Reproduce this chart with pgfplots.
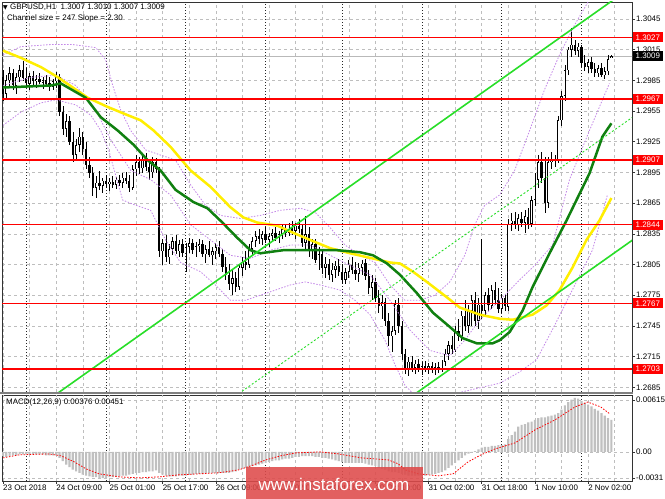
\documentclass[border=0pt]{standalone}
\usepackage{pgfplots}
\pgfplotsset{compat=1.18}
\usepackage{pgfplotstable}
\usepackage{fontspec}
\setmainfont{Liberation Sans}
\newfontfamily\dejavu{DejaVu Sans}
\definecolor{chgreen}{RGB}{40,222,40}
\definecolor{magreen}{RGB}{16,128,16}
\definecolor{mayellow}{RGB}{255,238,0}
\definecolor{bandpurple}{RGB}{196,136,232}
\definecolor{gridgray}{RGB}{190,190,190}
\definecolor{histgray}{RGB}{192,192,192}
\definecolor{wmred}{RGB}{222,74,74}
\newcommand{\lbl}{\fontsize{8}{9.6}\selectfont}

\pgfplotstableread{
i o h l c
0 1.2988 1.2995 1.2965 1.2972
1 1.2972 1.2990 1.2966 1.2985
2 1.2985 1.2998 1.2978 1.2992
3 1.2992 1.2996 1.2976 1.2980
4 1.2980 1.2992 1.2972 1.2988
5 1.2988 1.3000 1.2983 1.2995
6 1.2995 1.3004 1.2984 1.2987
7 1.2987 1.2997 1.2978 1.2982
8 1.2982 1.2992 1.2976 1.2989
9 1.2989 1.2994 1.2980 1.2984
10 1.2984 1.2990 1.2978 1.2986
11 1.2986 1.2992 1.2981 1.2983
12 1.2983 1.2988 1.2977 1.2985
13 1.2985 1.2990 1.2980 1.2982
14 1.2982 1.2988 1.2975 1.2979
15 1.2979 1.2986 1.2976 1.2984
16 1.2984 1.2993 1.2978 1.2988
17 1.2988 1.2991 1.2950 1.2954
18 1.2954 1.2960 1.2932 1.2938
19 1.2938 1.2952 1.2930 1.2945
20 1.2945 1.2950 1.2922 1.2925
21 1.2925 1.2935 1.2905 1.2912
22 1.2912 1.2928 1.2908 1.2922
23 1.2922 1.2938 1.2915 1.2930
24 1.2930 1.2935 1.2912 1.2918
25 1.2918 1.2925 1.2898 1.2902
26 1.2902 1.2910 1.2890 1.2895
27 1.2895 1.2900 1.2872 1.2880
28 1.2880 1.2892 1.2870 1.2885
29 1.2885 1.2896 1.2878 1.2882
30 1.2882 1.2890 1.2875 1.2887
31 1.2887 1.2893 1.2880 1.2884
32 1.2884 1.2890 1.2877 1.2886
33 1.2886 1.2892 1.2880 1.2883
34 1.2883 1.2891 1.2879 1.2888
35 1.2888 1.2893 1.2882 1.2885
36 1.2885 1.2895 1.2880 1.2890
37 1.2890 1.2896 1.2884 1.2887
38 1.2887 1.2893 1.2876 1.2880
39 1.2880 1.2902 1.2878 1.2898
40 1.2898 1.2912 1.2892 1.2905
41 1.2905 1.2910 1.2893 1.2899
42 1.2899 1.2912 1.2895 1.2908
43 1.2908 1.2914 1.2896 1.2900
44 1.2900 1.2908 1.2888 1.2895
45 1.2895 1.2910 1.2890 1.2905
46 1.2905 1.2909 1.2894 1.2898
47 1.2898 1.2900 1.2812 1.2818
48 1.2818 1.2830 1.2805 1.2826
49 1.2826 1.2834 1.2808 1.2812
50 1.2812 1.2825 1.2806 1.2820
51 1.2820 1.2832 1.2814 1.2828
52 1.2828 1.2834 1.2815 1.2818
53 1.2818 1.2829 1.2812 1.2825
54 1.2825 1.2830 1.2812 1.2816
55 1.2816 1.2826 1.2798 1.2822
56 1.2822 1.2831 1.2816 1.2826
57 1.2826 1.2830 1.2815 1.2819
58 1.2819 1.2827 1.2812 1.2823
59 1.2823 1.2830 1.2817 1.2825
60 1.2825 1.2829 1.2812 1.2815
61 1.2815 1.2824 1.2806 1.2820
62 1.2820 1.2828 1.2812 1.2814
63 1.2814 1.2822 1.2805 1.2818
64 1.2818 1.2826 1.2810 1.2822
65 1.2822 1.2828 1.2812 1.2815
66 1.2815 1.2820 1.2798 1.2803
67 1.2803 1.2812 1.2790 1.2795
68 1.2795 1.2806 1.2780 1.2786
69 1.2786 1.2800 1.2775 1.2792
70 1.2792 1.2798 1.2778 1.2783
71 1.2783 1.2806 1.2780 1.2802
72 1.2802 1.2812 1.2794 1.2808
73 1.2808 1.2818 1.2800 1.2805
74 1.2805 1.2825 1.2802 1.2820
75 1.2820 1.2832 1.2814 1.2828
76 1.2828 1.2838 1.2822 1.2833
77 1.2833 1.2840 1.2825 1.2830
78 1.2830 1.2838 1.2824 1.2835
79 1.2835 1.2842 1.2826 1.2829
80 1.2829 1.2836 1.2822 1.2833
81 1.2833 1.2840 1.2827 1.2836
82 1.2836 1.2842 1.2828 1.2831
83 1.2831 1.2838 1.2826 1.2835
84 1.2835 1.2844 1.2830 1.2840
85 1.2840 1.2845 1.2832 1.2836
86 1.2836 1.2846 1.2833 1.2842
87 1.2842 1.2848 1.2834 1.2838
88 1.2838 1.2846 1.2830 1.2843
89 1.2843 1.2850 1.2836 1.2840
90 1.2840 1.2844 1.2822 1.2826
91 1.2826 1.2852 1.2820 1.2835
92 1.2835 1.2842 1.2812 1.2818
93 1.2818 1.2830 1.2810 1.2825
94 1.2825 1.2830 1.2806 1.2810
95 1.2810 1.2822 1.2800 1.2815
96 1.2815 1.2820 1.2796 1.2802
97 1.2802 1.2812 1.2792 1.2806
98 1.2806 1.2810 1.2790 1.2795
99 1.2795 1.2806 1.2788 1.2800
100 1.2800 1.2808 1.2792 1.2804
101 1.2804 1.2810 1.2794 1.2798
102 1.2798 1.2806 1.2786 1.2790
103 1.2790 1.2802 1.2786 1.2798
104 1.2798 1.2810 1.2792 1.2805
105 1.2805 1.2812 1.2796 1.2800
106 1.2800 1.2808 1.2790 1.2796
107 1.2796 1.2806 1.2788 1.2802
108 1.2802 1.2810 1.2795 1.2806
109 1.2806 1.2810 1.2790 1.2794
110 1.2794 1.2800 1.2776 1.2782
111 1.2782 1.2795 1.2770 1.2788
112 1.2788 1.2792 1.2768 1.2772
113 1.2772 1.2780 1.2758 1.2764
114 1.2764 1.2775 1.2752 1.2768
115 1.2768 1.2772 1.2745 1.2750
116 1.2750 1.2758 1.2725 1.2735
117 1.2735 1.2745 1.2720 1.2740
118 1.2740 1.2770 1.2736 1.2766
119 1.2766 1.2772 1.2738 1.2745
120 1.2745 1.2750 1.2712 1.2718
121 1.2718 1.2722 1.2698 1.2702
122 1.2702 1.2715 1.2696 1.2710
123 1.2710 1.2716 1.2700 1.2704
124 1.2704 1.2712 1.2698 1.2708
125 1.2708 1.2713 1.2700 1.2703
126 1.2703 1.2710 1.2697 1.2706
127 1.2706 1.2711 1.2700 1.2704
128 1.2704 1.2709 1.2698 1.2706
129 1.2706 1.2710 1.2699 1.2702
130 1.2702 1.2709 1.2697 1.2705
131 1.2705 1.2710 1.2699 1.2703
132 1.2703 1.2712 1.2700 1.2710
133 1.2710 1.2722 1.2706 1.2718
134 1.2718 1.2730 1.2712 1.2726
135 1.2726 1.2735 1.2718 1.2722
136 1.2722 1.2745 1.2720 1.2740
137 1.2740 1.2752 1.2730 1.2735
138 1.2735 1.2760 1.2730 1.2755
139 1.2755 1.2770 1.2740 1.2745
140 1.2745 1.2765 1.2738 1.2760
141 1.2760 1.2775 1.2745 1.2770
142 1.2770 1.2778 1.2745 1.2750
143 1.2750 1.2772 1.2742 1.2766
144 1.2766 1.2830 1.2752 1.2760
145 1.2760 1.2778 1.2755 1.2775
146 1.2775 1.2782 1.2760 1.2765
147 1.2765 1.2785 1.2762 1.2780
148 1.2780 1.2788 1.2765 1.2770
149 1.2770 1.2782 1.2758 1.2762
150 1.2762 1.2776 1.2758 1.2772
151 1.2772 1.2776 1.2760 1.2764
152 1.2764 1.2850 1.2760 1.2845
153 1.2845 1.2855 1.2838 1.2848
154 1.2848 1.2856 1.2840 1.2844
155 1.2844 1.2854 1.2838 1.2850
156 1.2850 1.2856 1.2842 1.2846
157 1.2846 1.2858 1.2836 1.2852
158 1.2852 1.2860 1.2840 1.2845
159 1.2845 1.2872 1.2842 1.2868
160 1.2868 1.2895 1.2862 1.2888
161 1.2888 1.2912 1.2880 1.2905
162 1.2905 1.2915 1.2885 1.2890
163 1.2890 1.2910 1.2855 1.2865
164 1.2865 1.2910 1.2860 1.2905
165 1.2905 1.2915 1.2898 1.2908
166 1.2908 1.2912 1.2900 1.2906
167 1.2906 1.2950 1.2904 1.2946
168 1.2946 1.2975 1.2940 1.2970
169 1.2970 1.3000 1.2965 1.2995
170 1.2995 1.3018 1.2990 1.3015
171 1.3015 1.3036 1.3008 1.3020
172 1.3020 1.3025 1.3010 1.3014
173 1.3014 1.3022 1.3008 1.3018
174 1.3018 1.3020 1.2998 1.3002
175 1.3002 1.3010 1.2994 1.2998
176 1.2998 1.3006 1.2992 1.3003
177 1.3003 1.3008 1.2992 1.2996
178 1.2996 1.3002 1.2988 1.2992
179 1.2992 1.3000 1.2988 1.2997
180 1.2997 1.3002 1.2988 1.2990
181 1.2990 1.2998 1.2986 1.2994
182 1.2994 1.3010 1.2990 1.3006
183 1.3007 1.3010 1.3007 1.3009
}\candles

\pgfplotstableread{
i p
0 1.2978
14.4 1.2980
17.4 1.2982
24.9 1.2968
29.4 1.2949
34.5 1.2936
39.3 1.2922
43.5 1.2907
47.4 1.2897
51.9 1.2878
57.3 1.2866
61.5 1.2860
66 1.2846
70.5 1.2831
74.4 1.2819
77.4 1.2816
84.3 1.2819
91.5 1.2819
100.5 1.2819
107.4 1.2817
111.3 1.2814
115.5 1.2806
119.4 1.2795
124.5 1.2777
129.3 1.2758
134.4 1.2744
138.3 1.2733
142.5 1.2728
147.3 1.2728
149.4 1.2731
152.4 1.2739
156.3 1.2760
159.3 1.2783
164.4 1.2816
169.5 1.2848
172.5 1.2868
176.4 1.2894
180.3 1.2930
183 1.2943
}\maG

\pgfplotstableread{
i p
0 1.3014
5.4 1.3007
11.4 1.2998
16.5 1.2988
21 1.2978
25.5 1.2968
31.5 1.2959
37.5 1.2951
41.4 1.2946
45.3 1.2936
50.4 1.2920
56.4 1.2897
62.4 1.2881
68.4 1.2861
72.3 1.2851
76.5 1.2846
82.5 1.2843
87.3 1.2836
92.4 1.2829
98.4 1.2821
104.4 1.2816
116.4 1.2807
119.4 1.2806
123.3 1.2798
127.5 1.2788
133.5 1.2773
137.4 1.2763
143.4 1.2756
149.4 1.2752
153.3 1.2751
159.3 1.2756
163.5 1.2765
167.4 1.2780
171.3 1.2802
175.5 1.2829
179.4 1.2848
183 1.2870
}\maY

\pgfplotstableread{
i p
0 1.3010
5.4 1.3018
14.4 1.3020
21 1.3020
27.9 1.3017
30.9 1.3005
33 1.2980
35.4 1.2956
38.4 1.2936
42.9 1.2917
47.4 1.2912
51.9 1.2907
56.4 1.2883
60.9 1.2863
65.4 1.2853
71.4 1.2850
77.4 1.2853
83.4 1.2858
89.4 1.2860
93.9 1.2856
98.4 1.2841
102.9 1.2824
107.4 1.2814
111.9 1.2807
116.4 1.2785
120.9 1.2770
125.4 1.2770
129.9 1.2775
134.4 1.2788
138.9 1.2814
141.9 1.2844
144.9 1.2863
149.4 1.2873
153.9 1.2897
158.4 1.2936
162.9 1.2976
167.4 1.3010
171.9 1.3039
176.4 1.3064
}\bandU

\pgfplotstableread{
i p
0 1.2980
8.4 1.2988
15.9 1.2990
21.9 1.2980
27.9 1.2956
32.4 1.2927
38.4 1.2897
44.4 1.2888
50.4 1.2873
56.4 1.2844
62.4 1.2829
68.4 1.2814
74.4 1.2811
80.4 1.2819
86.4 1.2824
92.4 1.2824
98.4 1.2814
104.4 1.2804
110.4 1.2795
116.4 1.2770
122.4 1.2741
128.4 1.2721
134.4 1.2716
138.9 1.2731
143.4 1.2751
149.4 1.2770
155.4 1.2790
159.9 1.2804
165.3 1.2824
170.4 1.2888
176.4 1.2936
182.4 1.2982
}\bandM

\pgfplotstableread{
i p
0 1.2941
5.4 1.2954
11.4 1.2963
15.9 1.2966
21.9 1.2961
26.4 1.2951
29.4 1.2936
31.8 1.2917
33.9 1.2892
36 1.2868
39.9 1.2863
44.4 1.2858
48.9 1.2829
53.4 1.2807
59.4 1.2798
63.9 1.2785
68.4 1.2770
72.9 1.2770
77.4 1.2775
81.9 1.2780
86.4 1.2785
90.9 1.2788
95.4 1.2785
101.4 1.2780
105.9 1.2770
110.4 1.2756
114.9 1.2731
117.9 1.2707
120.9 1.2687
123.9 1.2677
131.4 1.2675
137.4 1.2680
149.4 1.2689
155.4 1.2700
160.5 1.2712
166 1.2746
172 1.2785
177.3 1.2819
181.8 1.2873
}\bandL

\pgfplotstableread{
i m
0 -0.0005
1 -0.0006
2 -0.0005
3 -0.0004
4 -0.0004
5 -0.0003
6 -0.0003
7 -0.0003
8 -0.0003
9 -0.0003
10 -0.0003
11 -0.0003
12 -0.0003
13 -0.0004
14 -0.0004
15 -0.0004
16 -0.0004
17 -0.0007
18 -0.0011
19 -0.0015
20 -0.0018
21 -0.0021
22 -0.0023
23 -0.0025
24 -0.0027
25 -0.0028
26 -0.0029
27 -0.0030
28 -0.0030
29 -0.0031
30 -0.0031
31 -0.0031
32 -0.0030
33 -0.0030
34 -0.0029
35 -0.0029
36 -0.0028
37 -0.0028
38 -0.0027
39 -0.0026
40 -0.0025
41 -0.0025
42 -0.0024
43 -0.0024
44 -0.0023
45 -0.0023
46 -0.0022
47 -0.0025
48 -0.0027
49 -0.0028
50 -0.0029
51 -0.0029
52 -0.0029
53 -0.0028
54 -0.0028
55 -0.0028
56 -0.0027
57 -0.0027
58 -0.0026
59 -0.0026
60 -0.0026
61 -0.0025
62 -0.0025
63 -0.0025
64 -0.0025
65 -0.0025
66 -0.0025
67 -0.0025
68 -0.0025
69 -0.0024
70 -0.0023
71 -0.0021
72 -0.0020
73 -0.0019
74 -0.0018
75 -0.0017
76 -0.0016
77 -0.0015
78 -0.0014
79 -0.0013
80 -0.0012
81 -0.0011
82 -0.0010
83 -0.0010
84 -0.0009
85 -0.0008
86 -0.0008
87 -0.0007
88 -0.0006
89 -0.0006
90 -0.0005
91 -0.0005
92 -0.0005
93 -0.0005
94 -0.0006
95 -0.0006
96 -0.0007
97 -0.0007
98 -0.0008
99 -0.0009
100 -0.0010
101 -0.0011
102 -0.0012
103 -0.0013
104 -0.0013
105 -0.0013
106 -0.0013
107 -0.0013
108 -0.0013
109 -0.0014
110 -0.0015
111 -0.0016
112 -0.0017
113 -0.0019
114 -0.0020
115 -0.0021
116 -0.0023
117 -0.0024
118 -0.0024
119 -0.0025
120 -0.0026
121 -0.0027
122 -0.0028
123 -0.0028
124 -0.0028
125 -0.0028
126 -0.0028
127 -0.0028
128 -0.0027
129 -0.0027
130 -0.0026
131 -0.0025
132 -0.0024
133 -0.0022
134 -0.0019
135 -0.0016
136 -0.0013
137 -0.0010
138 -0.0007
139 -0.0004
140 -0.0002
141 0.0000
142 0.0001
143 0.0003
144 0.0005
145 0.0006
146 0.0006
147 0.0007
148 0.0007
149 0.0008
150 0.0008
151 0.0009
152 0.0015
153 0.0020
154 0.0024
155 0.0030
156 0.0032
157 0.0033
158 0.0035
159 0.0036
160 0.0038
161 0.0040
162 0.0041
163 0.0041
164 0.0042
165 0.0043
166 0.0044
167 0.0046
168 0.0050
169 0.0055
170 0.0059
171 0.0062
172 0.0064
173 0.0063
174 0.0060
175 0.0058
176 0.0056
177 0.0054
178 0.0051
179 0.0049
180 0.0046
181 0.0043
182 0.0040
183 0.0038
}\macdtab

\pgfplotstableread{
i s
0 -0.00071
4.9 -0.00035
13.9 -0.00024
17.5 -0.00047
21.4 -0.00118
25 -0.00201
28.9 -0.00260
34.9 -0.00296
40.9 -0.00308
46.9 -0.00296
52.9 -0.00272
58.9 -0.00260
64.9 -0.00248
70.9 -0.00213
75.4 -0.00154
79 -0.00095
83.5 -0.00047
88 -0.00012
95.5 0.00000
100.9 -0.00024
107.8 -0.00071
115.9 -0.00095
118.9 -0.00142
121 -0.00213
124.9 -0.00260
130.9 -0.00284
135.4 -0.00260
136.9 -0.00213
139.9 -0.00118
143.8 -0.00035
148 0.00035
154 0.00106
160 0.00260
166 0.00378
172 0.00532
175.9 0.00591
179.8 0.00532
182.5 0.00451
}\sigtab

\begin{document}
\begin{tikzpicture}
\useasboundingbox (0,0) rectangle (665bp,499bp);
\fill[white] (0,0) rectangle (665bp,499bp);

% ---------------- main price panel ----------------
\begin{axis}[at={(2bp,107bp)}, anchor=south west, scale only axis,
  width=630bp, height=390bp,
  xmin=-0.3, xmax=189.2, ymin=1.26804, ymax=1.30616,
  xtick=\empty,
  ytick={1.2685,1.2715,1.2745,1.2775,1.2805,1.2835,1.2865,1.2895,1.2925,1.2955,1.2985,1.3015,1.3045},
  yticklabels={1.2685,1.2715,1.2745,1.2775,1.2805,1.2835,1.2865,1.2895,1.2925,1.2955,1.2985,1.3015,1.3045},
  scaled y ticks=false,
  ytick pos=right, tick align=outside, major tick length=3bp,
  yticklabel style={font=\lbl, inner sep=1bp},
  ymajorgrids, grid style={gridgray, dash pattern=on 3bp off 3bp, line width=0.5bp},
  axis line style={black!80, line width=0.7bp}, tick style={black!80, line width=0.5bp}]

\pgfplotsinvokeforeach{0,8,16,24,32,40,48,56,64,72,80,88,96,104,112,120,128,136,144,152,160,168,176,184}{
  \draw[gridgray, dash pattern=on 3bp off 3bp, line width=0.5bp] (axis cs:#1,1.26804) -- (axis cs:#1,1.30616);}
\pgfplotsinvokeforeach{7,31,55,79,102,126,150,174}{
  \draw[black!85, dash pattern=on 1.2bp off 1.8bp, line width=0.7bp] (axis cs:#1,1.26804) -- (axis cs:#1,1.30616);}

% bid line
\addplot[gray!55, line width=0.6bp] coordinates {(-1,1.3009) (190,1.3009)};

% candles: wicks, bodies, bullish inner
\addplot[draw=none, error bars/.cd, y dir=both, y explicit, error mark=none,
  error bar style={draw=black, line width=0.6bp}]
  table[x=i, y expr={(\thisrow{h}+\thisrow{l})/2}, y error expr={(\thisrow{h}-\thisrow{l})/2}] {\candles};
\addplot[draw=none, error bars/.cd, y dir=both, y explicit, error mark=none,
  error bar style={draw=black, line width=2.3bp}]
  table[x=i, y expr={(\thisrow{o}+\thisrow{c})/2}, y error expr={max(abs(\thisrow{c}-\thisrow{o})/2,0.00004)}] {\candles};
\addplot[draw=none, error bars/.cd, y dir=both, y explicit, error mark=none,
  error bar style={draw=white, line width=0.9bp}]
  table[x=i, y expr={(\thisrow{o}+\thisrow{c})/2}, y error expr={max((\thisrow{c}-\thisrow{o})/2-0.00007,0)}] {\candles};

% bands
\addplot[bandpurple, dash pattern=on 1.5bp off 1.5bp, line width=0.8bp] table[x=i,y=p] {\bandU};
\addplot[bandpurple, dash pattern=on 1.5bp off 1.5bp, line width=0.8bp] table[x=i,y=p] {\bandM};
\addplot[bandpurple, dash pattern=on 1.5bp off 1.5bp, line width=0.8bp] table[x=i,y=p] {\bandL};

% moving averages
\addplot[mayellow, line width=2.5bp] table[x=i,y=p] {\maY};
\addplot[magreen, line width=2.5bp] table[x=i,y=p] {\maG};

% channel
\addplot[chgreen, line width=1.6bp] coordinates {(10,1.26644) (190,1.30784)};
\addplot[chgreen, line width=1.6bp] coordinates {(118,1.26648) (190,1.28304)};
\addplot[chgreen, line width=0.9bp, dash pattern=on 2bp off 2bp] coordinates {(65,1.26654) (190,1.29504)};

% levels
\addplot[red, line width=1.6bp] coordinates {(-1,1.3027) (190,1.3027)};
\addplot[red, line width=1.6bp] coordinates {(-1,1.2967) (190,1.2967)};
\addplot[red, line width=1.6bp] coordinates {(-1,1.2907) (190,1.2907)};
\addplot[red, line width=1.6bp] coordinates {(-1,1.2844) (190,1.2844)};
\addplot[red, line width=1.6bp] coordinates {(-1,1.2767) (190,1.2767)};
\addplot[red, line width=1.6bp] coordinates {(-1,1.2703) (190,1.2703)};

\coordinate (r1) at (axis cs:189.2,1.3027);
\coordinate (r2) at (axis cs:189.2,1.2967);
\coordinate (r3) at (axis cs:189.2,1.2907);
\coordinate (r4) at (axis cs:189.2,1.2844);
\coordinate (r5) at (axis cs:189.2,1.2767);
\coordinate (r6) at (axis cs:189.2,1.2703);
\coordinate (rb) at (axis cs:189.2,1.3009);
\end{axis}

% ---------------- MACD panel ----------------
\begin{axis}[at={(2bp,18bp)}, anchor=south west, scale only axis,
  width=630bp, height=86bp,
  xmin=-0.3, xmax=189.2, ymin=-0.00345, ymax=0.00674,
  xtick={0,16,32,48,64,80,96,112,128,144,160,176},
  xticklabels={23 Oct 2018,24 Oct 09:00,25 Oct 01:00,25 Oct 17:00,26 Oct 09:00,29 Oct 02:00,29 Oct 18:00,30 Oct 10:00,31 Oct 02:00,31 Oct 18:00,1 Nov 10:00,2 Nov 02:00},
  xtick pos=bottom,
  ytick={-0.0031,0,0.00615}, yticklabels={-0.0031,0.00,0.00615},
  scaled y ticks=false, scaled x ticks=false,
  ytick pos=right, tick align=outside, major tick length=3bp,
  yticklabel style={font=\lbl, inner sep=1bp},
  xticklabel style={font=\lbl, anchor=north west, inner sep=0.5bp, xshift=-0.5bp},
  ymajorgrids, grid style={gridgray, dash pattern=on 3bp off 3bp, line width=0.5bp},
  axis line style={black!80, line width=0.7bp}, tick style={black!80, line width=0.5bp}]

\pgfplotsinvokeforeach{0,8,16,24,32,40,48,56,64,72,80,88,96,104,112,120,128,136,144,152,160,168,176,184}{
  \draw[gridgray, dash pattern=on 3bp off 3bp, line width=0.5bp] (axis cs:#1,-0.00345) -- (axis cs:#1,0.00674);}
\pgfplotsinvokeforeach{7,31,55,79,102,126,150,174}{
  \draw[black!85, dash pattern=on 1.2bp off 1.8bp, line width=0.7bp] (axis cs:#1,-0.00345) -- (axis cs:#1,0.00674);}

\addplot[ybar, bar width=2.2bp, fill=histgray, draw=none] table[x=i,y=m] {\macdtab};
\addplot[red, dash pattern=on 1.5bp off 1.5bp, line width=0.8bp] table[x=i,y=s] {\sigtab};
\end{axis}

% separator
\draw[black!50, line width=2bp] (0,105.5bp) -- (632.5bp,105.5bp);

% level labels
\foreach \n/\t in {r1/1.3027,r2/1.2967,r3/1.2907,r4/1.2844,r5/1.2767,r6/1.2703}
  \node[fill=red, text=white, font=\lbl, anchor=west, inner xsep=3bp, inner ysep=0.8bp,
        minimum height=10bp, text width=24.5bp, align=left] at ([xshift=0.4bp]\n) {\t};
\node[fill=black, text=white, font=\lbl, anchor=west, inner xsep=3bp, inner ysep=0.8bp,
      minimum height=10bp, text width=24.5bp, align=left] at ([xshift=0.4bp]rb) {1.3009};

% header texts
\node[anchor=center, inner sep=0, font=\dejavu\fontsize{6}{7}\selectfont] at (5.5bp,491.5bp) {▼};
\node[anchor=west, inner sep=0, font=\lbl] at (10bp,491.5bp) {GBPUSD,H1\ \ 1.3007 1.3010 1.3007 1.3009};
\node[anchor=west, inner sep=0, font=\lbl] at (7bp,480.5bp) {Channel size = 247 Slope = 2.30};
\node[anchor=west, inner sep=0, font=\lbl] at (6bp,97bp) {MACD(12,26,9) 0.00376 0.00451};

% watermark
\fill[wmred, opacity=0.88] (246bp,0bp) rectangle (423bp,32bp);
\node[text=white, font=\fontsize{17}{20}\selectfont, inner sep=0] at (334bp,15bp) {www.instaforex.com};
\end{tikzpicture}
\end{document}
